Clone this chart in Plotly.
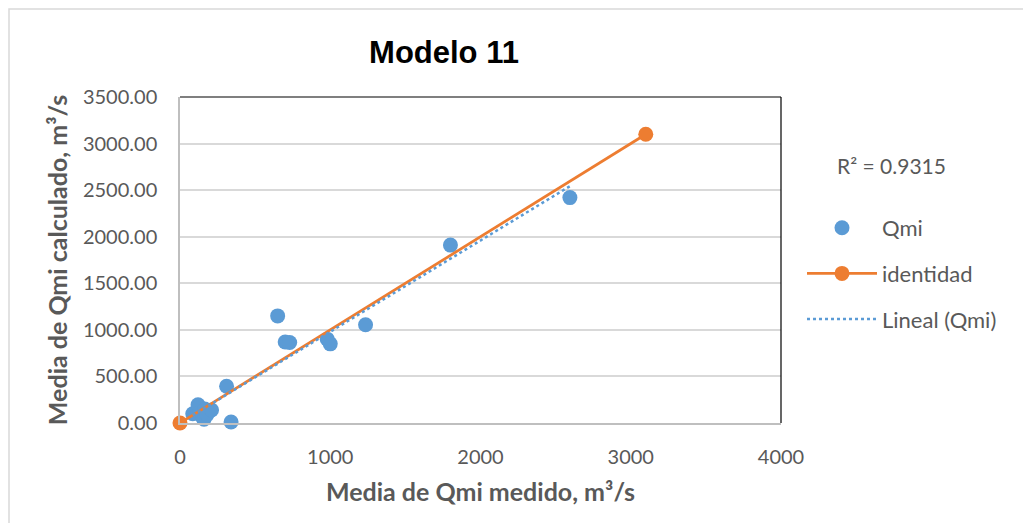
import numpy as np
import plotly.graph_objects as go

# Data
qmi_medido = [85, 120, 130, 150, 160, 165, 180, 210, 310, 340, 650, 700, 730, 980, 1000, 1235, 1800, 2595]
qmi_calculado = [100, 195, 110, 60, 40, 150, 90, 140, 395, 10, 1150, 870, 865, 900, 850, 1055, 1910, 2420]
identidad_x = [0, 3100]
identidad_y = [0, 3100]
x_ticks = [0, 1000, 2000, 3000, 4000]
y_ticks = [0, 500, 1000, 1500, 2000, 2500, 3000, 3500]
r2_label = "R² = 0.9315"

# Linear trendline (least squares) from the data
slope, intercept = np.polyfit(qmi_medido, qmi_calculado, 1)
trend_x = [min(qmi_medido), max(qmi_medido)]
trend_y = [slope * v + intercept for v in trend_x]

BLUE = "#5B9BD5"
ORANGE = "#ED7D31"
GRAY_TXT = "#595959"
FONT = "Lato"

fig = go.Figure()
fig.add_trace(go.Scatter(
    x=qmi_medido, y=qmi_calculado, mode="markers", name="Qmi",
    marker=dict(color=BLUE, size=15), cliponaxis=False, legendgroup="a"))
fig.add_trace(go.Scatter(
    x=identidad_x, y=identidad_y, mode="lines+markers", name="identidad",
    line=dict(color=ORANGE, width=2.75), marker=dict(color=ORANGE, size=15),
    cliponaxis=False, legendgroup="b"))
fig.add_trace(go.Scatter(
    x=trend_x, y=trend_y, mode="lines", name="Lineal (Qmi)",
    line=dict(color=BLUE, width=2.5, dash="dot"), cliponaxis=False, legendgroup="c"))

OFF = 8  # page body margin
W, H = 1031 - OFF, 523 - OFF
# plot area in page pixels: x 180..781, y 97..423
L, T = 180 - OFF, 97 - OFF
R = W - (781 - OFF)
B = H - (423 - OFF)
pw, ph = W - L - R, H - T - B

def px_x(p):
    return (p - 180) / pw

def px_y(p):
    return (423 - p) / ph

fig.update_layout(
    width=W, height=H,
    margin=dict(l=L, r=R, t=T, b=B, autoexpand=False),
    paper_bgcolor="white", plot_bgcolor="white",
    title=dict(text="Modelo 11", x=(444 - OFF) / W, xanchor="center",
               y=1 - (52 - OFF) / H, yanchor="middle",
               font=dict(family="Liberation Sans", size=31, color="black", weight="bold")),
    xaxis=dict(range=[0, 4000], tickvals=x_ticks, showgrid=False, zeroline=False,
               showline=True, linecolor="#BFBFBF", linewidth=1.5,
               tickfont=dict(family=FONT, size=20, color=GRAY_TXT), ticklabelstandoff=15,
               title=dict(text="Media de Qmi medido, m³/s", standoff=17,
                          font=dict(family=FONT, size=25, color=GRAY_TXT, weight="bold"))),
    yaxis=dict(range=[0, 3500], tickvals=y_ticks, tickformat=".2f", showgrid=True,
               gridcolor="#D9D9D9", gridwidth=1.5, zeroline=False,
               showline=True, linecolor="#BFBFBF", linewidth=1.5,
               tickfont=dict(family=FONT, size=20, color=GRAY_TXT), ticklabelstandoff=17,
               title=dict(text="Media de Qmi calculado, m³/s", standoff=8,
                          font=dict(family=FONT, size=25, color=GRAY_TXT, weight="bold"))),
    legend=dict(x=px_x(802), y=px_y(207), xanchor="left", yanchor="top",
                font=dict(family=FONT, size=22, color=GRAY_TXT), tracegroupgap=14,
                itemwidth=70, bgcolor="rgba(0,0,0,0)"),
    shapes=[
        dict(type="line", xref="paper", yref="paper", x0=0, x1=1, y0=1, y1=1,
             line=dict(color="black", width=1.2)),
        dict(type="line", xref="paper", yref="paper", x0=1, x1=1, y0=0, y1=1,
             line=dict(color="black", width=1.2)),
        dict(type="rect", xref="paper", yref="paper", x0=px_x(9), x1=px_x(1045),
             y0=px_y(540), y1=px_y(9), line=dict(color="#D9D9D9", width=1.5), layer="below"),
    ],
    annotations=[
        dict(text=r2_label, xref="paper", yref="paper", x=px_x(835), y=px_y(165),
             xanchor="left", yanchor="middle", showarrow=False,
             font=dict(family=FONT, size=21, color=GRAY_TXT)),
    ],
)

fig.write_html("out.html")
